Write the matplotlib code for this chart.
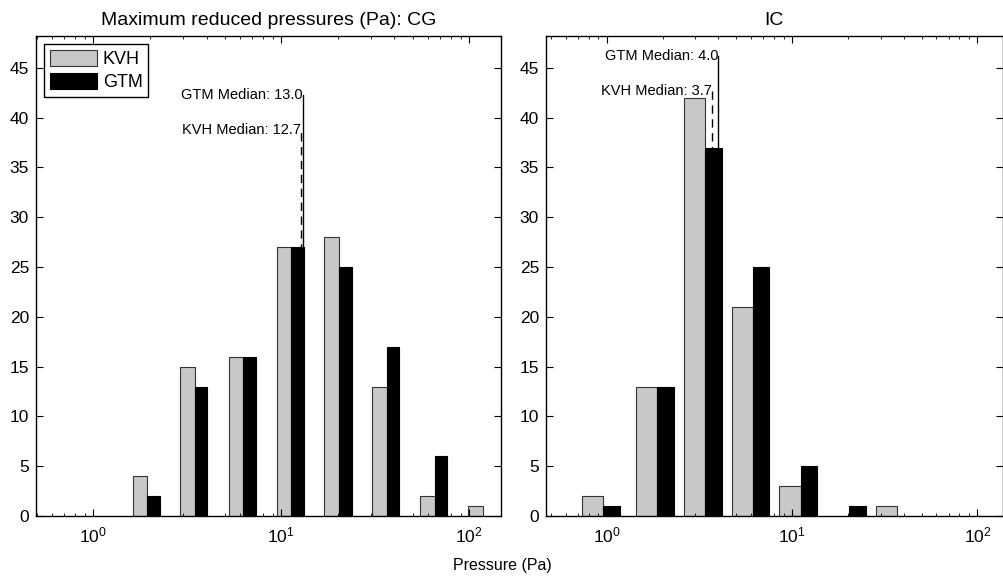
import matplotlib
matplotlib.use("Agg")
import matplotlib.pyplot as plt
import numpy as np

plt.rcParams["font.family"] = ["Liberation Sans", "DejaVu Sans"]

# ---- data ----
CG_CENTERS = [1.94, 3.47, 6.28, 11.3, 20.3, 36.4, 65.7, 118.0]
CG_KVH = [4, 15, 16, 27, 28, 13, 2, 1]
CG_GTM = [2, 13, 16, 27, 25, 17, 6, 0]
CG_MED_KVH = 12.7
CG_MED_GTM = 13.0

IC_CENTERS = [0.96, 1.875, 3.39, 6.12, 11.1, 20.3, 37.0]
IC_KVH = [2, 13, 42, 21, 3, 0, 1]
IC_GTM = [1, 13, 37, 25, 5, 1, 0]
IC_MED_KVH = 3.7
IC_MED_GTM = 4.0

GREY = "#c8c8c8"


def panel(ax, centers, kvh, gtm, med_kvh, med_gtm, frac, xlim, h_gtm, h_kvh):
    c = np.array(centers)
    w = c * frac
    kvh = np.array(kvh)
    gtm = np.array(gtm)
    mk = kvh > 0
    mg = gtm > 0
    ax.bar(c[mk] - w[mk], kvh[mk], width=w[mk], align="edge", color=GREY,
           edgecolor="#333333", lw=0.8, label="KVH")
    ax.bar(c[mg], gtm[mg], width=w[mg], align="edge", color="black",
           edgecolor="black", lw=0.8, label="GTM")

    ax.plot([med_gtm, med_gtm], [0, h_gtm], color="black", lw=1)
    ax.plot([med_kvh, med_kvh], [0, h_kvh], color="black", lw=1, ls=(0, (6, 4)))
    ax.text(med_gtm, h_gtm, f"GTM Median: {med_gtm:.1f}", ha="right", va="center",
            fontsize=10.5)
    ax.text(med_kvh, h_kvh, f"KVH Median: {med_kvh:.1f}", ha="right", va="center",
            fontsize=10.5)

    ax.set_xscale("log")
    ax.set_xlim(*xlim)
    ax.set_ylim(0, 48.2)
    ax.set_yticks(np.arange(0, 46, 5))
    ax.tick_params(which="both", direction="in", top=True, right=True,
                   labelsize=12.5)
    ax.tick_params(which="major", length=5)
    ax.tick_params(which="minor", length=2.5)
    ax.tick_params(axis="x", pad=7)
    ax.tick_params(axis="y", pad=5)
    for s in ax.spines.values():
        s.set_linewidth(1)


fig = plt.figure(figsize=(10.04, 5.79), dpi=100)
ax1 = fig.add_axes([0.0359, 0.1088, 0.463, 0.829])
ax2 = fig.add_axes([0.5438, 0.1088, 0.455, 0.829])

panel(ax1, CG_CENTERS, CG_KVH, CG_GTM, CG_MED_KVH, CG_MED_GTM, 0.165,
      (0.495, 147.5), 42.3, 38.8)
panel(ax2, IC_CENTERS, IC_KVH, IC_GTM, IC_MED_KVH, IC_MED_GTM, 0.23,
      (0.47, 137.0), 46.2, 42.7)

ax1.set_title("Maximum reduced pressures (Pa): CG", fontsize=14, pad=8)
ax2.set_title("IC", fontsize=14, pad=8)
leg = ax1.legend(loc="upper left", fontsize=13, fancybox=False, edgecolor="black",
                 framealpha=1, handlelength=2.6, handleheight=1.0,
                 borderpad=0.3, labelspacing=0.3, handletextpad=0.35,
                 borderaxespad=0.45)
leg.get_frame().set_linewidth(1)
fig.text(0.5, 0.024, "Pressure (Pa)", ha="center", va="center", fontsize=11.5)

fig.savefig("out.png", dpi=100)
